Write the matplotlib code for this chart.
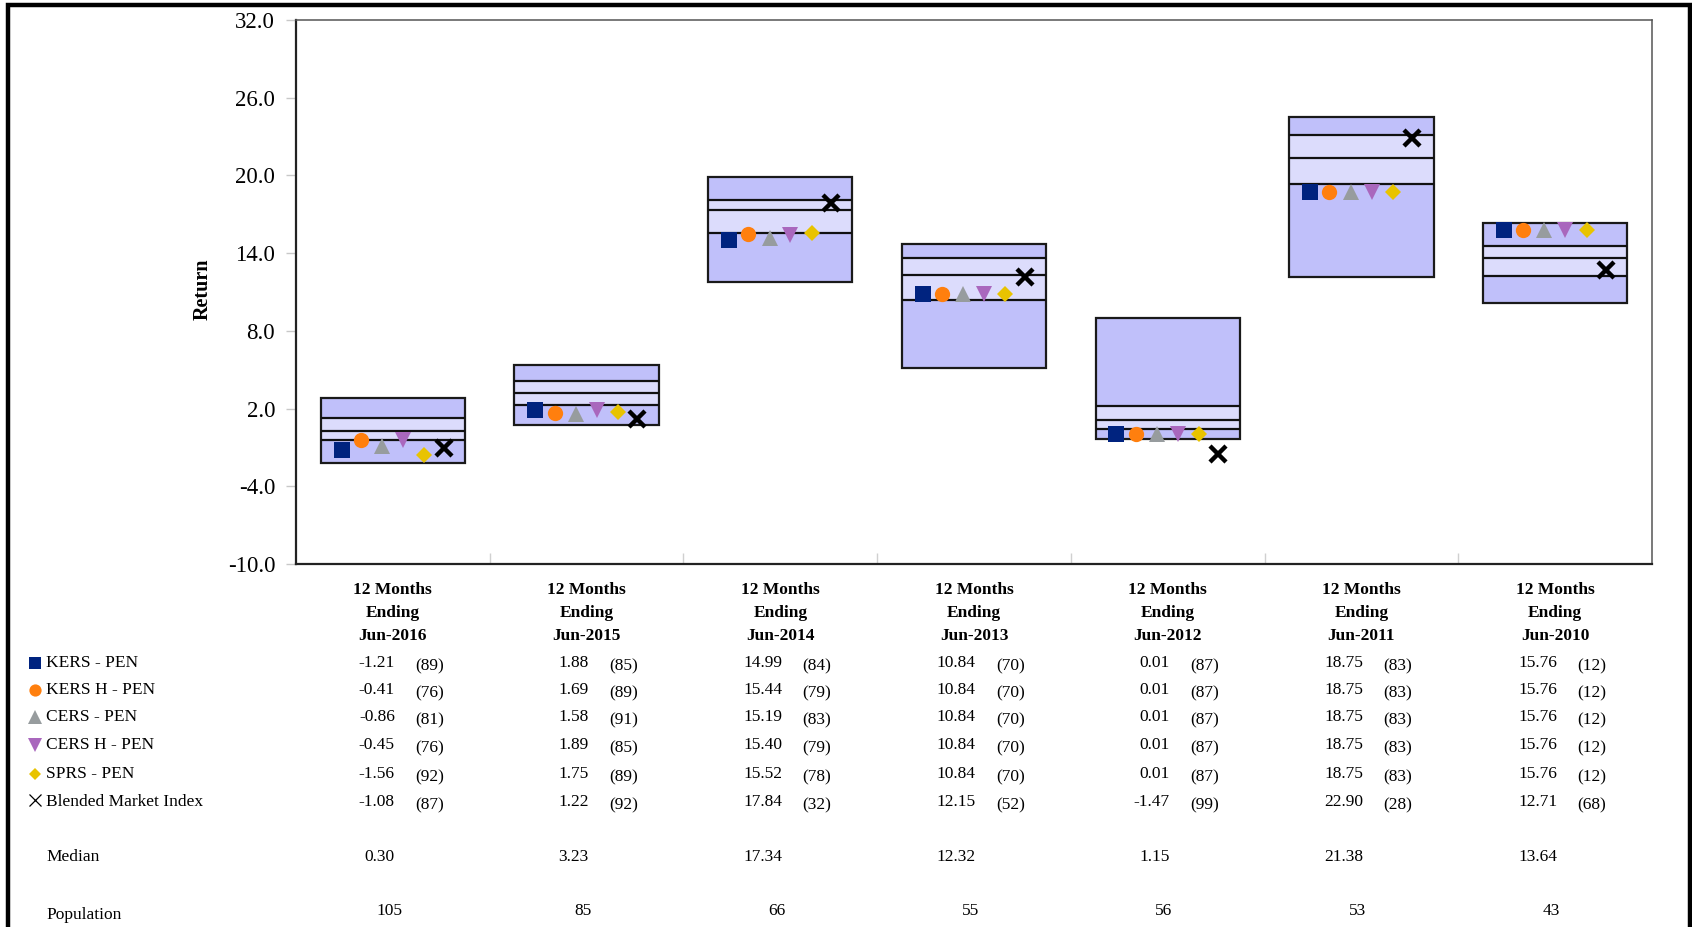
import matplotlib
matplotlib.use("Agg")
import matplotlib.pyplot as plt
import matplotlib.transforms as mtrans
from matplotlib.lines import Line2D
import numpy as np

plt.rcParams['font.family'] = ['Liberation Serif', 'DejaVu Serif']

# ---- data ----
periods = ['Jun-2016', 'Jun-2015', 'Jun-2014', 'Jun-2013', 'Jun-2012', 'Jun-2011', 'Jun-2010']

# universe percentile bands (5th, 25th, median, 75th, 95th)
p05 = [2.80, 5.38, 19.85, 14.70, 8.96, 24.51, 16.36]
p25 = [1.31, 4.14, 18.11, 13.62, 2.22, 23.10, 14.53]
median = [0.30, 3.23, 17.34, 12.32, 1.15, 21.38, 13.64]
p75 = [-0.44, 2.31, 15.53, 10.37, 0.39, 19.36, 12.20]
p95 = [-2.18, 0.73, 11.79, 5.13, -0.35, 12.12, 10.12]
population = [105, 85, 66, 55, 56, 53, 43]

series_names = ['KERS - PEN', 'KERS H - PEN', 'CERS - PEN', 'CERS H - PEN',
                'SPRS - PEN', 'Blended Market Index']
kers = [-1.21, 1.88, 14.99, 10.84, 0.01, 18.75, 15.76]
kers_h = [-0.41, 1.69, 15.44, 10.84, 0.01, 18.75, 15.76]
cers = [-0.86, 1.58, 15.19, 10.84, 0.01, 18.75, 15.76]
cers_h = [-0.45, 1.89, 15.40, 10.84, 0.01, 18.75, 15.76]
sprs = [-1.56, 1.75, 15.52, 10.84, 0.01, 18.75, 15.76]
bmi = [-1.08, 1.22, 17.84, 12.15, -1.47, 22.90, 12.71]

kers_rank = [89, 85, 84, 70, 87, 83, 12]
kers_h_rank = [76, 89, 79, 70, 87, 83, 12]
cers_rank = [81, 91, 83, 70, 87, 83, 12]
cers_h_rank = [76, 85, 79, 70, 87, 83, 12]
sprs_rank = [92, 89, 78, 70, 87, 83, 12]
bmi_rank = [87, 92, 32, 52, 99, 28, 68]

yticks = [-10.0, -4.0, 2.0, 8.0, 14.0, 20.0, 26.0, 32.0]

# ---- styles ----
series_vals = [kers, kers_h, cers, cers_h, sprs, bmi]
series_ranks = [kers_rank, kers_h_rank, cers_rank, cers_h_rank, sprs_rank, bmi_rank]
markers = ['s', 'o', '^', 'v', 'D', 'x']
colors = ['#00237f', '#ff7f0e', '#979c9e', '#a967bd', '#e8c300', '#000000']
msizes = [11, 11, 12, 12, 8, 11]
offsets = [-0.265, -0.165, -0.055, 0.052, 0.162, 0.262]
dark = '#c0c0fa'
light = '#dcdcfc'

W, H = 1692, 927
fig = plt.figure(figsize=(W / 100, H / 100), dpi=100)
ax = fig.add_axes([296 / W, 1 - 564 / H, (1652 - 296) / W, (564 - 20) / H])

x = np.arange(len(periods))
bw = 0.745
p05a, p25a, p75a, p95a = map(np.array, (p05, p25, p75, p95))

ax.bar(x, p05a - p25a, bottom=p25a, width=bw, color=dark, zorder=2)
ax.bar(x, p25a - p75a, bottom=p75a, width=bw, color=light, zorder=2)
ax.bar(x, p75a - p95a, bottom=p95a, width=bw, color=dark, zorder=2)
ax.bar(x, p05a - p95a, bottom=p95a, width=bw, fill=False,
       edgecolor='#1a1a1a', linewidth=1.6, zorder=3)
for lvl in (p25, median, p75):
    ax.hlines(lvl, x - bw / 2, x + bw / 2, colors='#111111', linewidth=1.6, zorder=3)

for vals, m, c, ms, off in zip(series_vals, markers, colors, msizes, offsets):
    if m == 'x':
        ax.plot(x + off, vals, linestyle='none', marker=m, color=c,
                markersize=ms, markeredgewidth=3.2, zorder=5)
    else:
        ax.plot(x + off, vals, linestyle='none', marker=m, color=c,
                markersize=ms, markeredgewidth=0, zorder=5)

ax.set_xlim(-0.5, len(periods) - 0.5)
ax.set_ylim(-10, 32)
ax.set_yticks(yticks)
ax.set_yticklabels(['%.1f' % t for t in yticks], fontsize=16.5)
ax.tick_params(axis='y', direction='out', length=7, width=1, color='#c8c8c8', pad=8)
ax.set_xticks(np.arange(len(periods) - 1) + 0.5)
ax.set_xticklabels([])
ax.tick_params(axis='x', direction='in', length=8, width=1, color='#d0d0d0')

for side in ('left', 'bottom'):
    ax.spines[side].set_linewidth(1.6)
    ax.spines[side].set_color('#222222')
for side in ('top', 'right'):
    ax.spines[side].set_linewidth(1.1)
    ax.spines[side].set_color('#555555')

fig.text(203 / W, 1 - 289 / H, 'Return', rotation=90, ha='center', va='center',
         fontsize=14.5, fontweight='bold')

# ---- table under the chart ----
tr = mtrans.blended_transform_factory(ax.transData, fig.transFigure)
fs = 12.5

def fy(px):
    return 1 - px / H

for i, p in enumerate(periods):
    for txt, py in zip(['12 Months', 'Ending', p], [590, 613, 636]):
        fig.text(i, fy(py), txt, transform=tr, ha='center', va='center',
                 fontsize=fs, fontweight='bold')

row_y = [663, 690, 717, 745, 774, 802]
for r, (name, vals, ranks) in enumerate(zip(series_names, series_vals, series_ranks)):
    py = row_y[r]
    if markers[r] == 'x':
        fig.add_artist(Line2D([35 / W], [fy(py - 2)], marker='x', color='black',
                              markersize=8, markeredgewidth=0.9, linestyle='none'))
    else:
        fig.add_artist(Line2D([35 / W], [fy(py)], marker=markers[r], color=colors[r],
                              markersize=msizes[r] * 0.8, markeredgewidth=0, linestyle='none'))
    fig.text(46 / W, fy(py), name, ha='left', va='center', fontsize=fs)
    for i in range(len(periods)):
        fig.text(i + 0.01, fy(py), '%.2f' % vals[i], transform=tr,
                 ha='right', va='center', fontsize=fs)
        fig.text(i + 0.115, fy(py + 3), '(%d)' % ranks[i], transform=tr,
                 ha='left', va='center', fontsize=fs)

fig.text(46 / W, fy(857), 'Median', ha='left', va='center', fontsize=fs)
fig.text(46 / W, fy(915), 'Population', ha='left', va='center', fontsize=fs)
for i in range(len(periods)):
    fig.text(i + 0.01, fy(857), '%.2f' % median[i], transform=tr,
             ha='right', va='center', fontsize=fs)
    fig.text(i - 0.02, fy(911), '%d' % population[i], transform=tr,
             ha='center', va='center', fontsize=fs)

# heavy frame round the page (open at the bottom)
fig.add_artist(Line2D([8 / W, 8 / W, 1690 / W, 1690 / W], [0, fy(4.5), fy(4.5), 0],
                      color='black', linewidth=3.2, solid_joinstyle='miter'))

fig.savefig('out.png', dpi=100)
